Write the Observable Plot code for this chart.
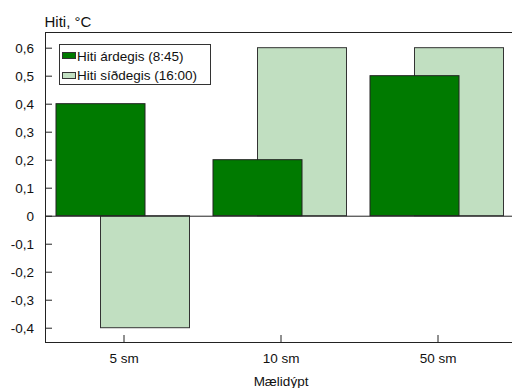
<!DOCTYPE html>
<html>
<head>
<meta charset="utf-8">
<script src="https://cdn.jsdelivr.net/npm/d3@7"></script>
<script src="https://cdn.jsdelivr.net/npm/@observablehq/plot@0.6"></script>
<style>
  html, body { margin: 0; padding: 0; background: #fff; }
  #wrap { position: relative; width: 512px; height: 388px; font-family: "Liberation Sans", Arial, sans-serif; color: #111; }
  #legend { position: absolute; left: 59px; top: 44px; width: 150px; height: 39px; border: 1px solid #333; background: #fff; font-size: 13.5px; }
  .sw { position: absolute; left: 2px; width: 12px; height: 5px; border: 1px solid #333; }
  .lt { position: absolute; left: 17px; line-height: 13px; white-space: nowrap; }
</style>
</head>
<body>
<div id="wrap"></div>
<script>
const depths = ["5 sm", "10 sm", "50 sm"];
const morning = [0.4, 0.2, 0.5];
const afternoon = [-0.4, 0.6, 0.6];
const seriesNames = ["Hiti árdegis (8:45)", "Hiti síðdegis (16:00)"];
const seriesColors = ["#007a00", "#c1dfc1"];
const yTicks = [-0.4, -0.3, -0.2, -0.1, 0, 0.1, 0.2, 0.3, 0.4, 0.5, 0.6];
const title = "Hiti, °C";
const xLabel = "Mælidýpt";

const morningData = depths.map((d, i) => ({depth: d, value: morning[i]}));
const afternoonData = depths.map((d, i) => ({depth: d, value: afternoon[i]}));
const fmt = d => d === 0 ? "0" : (d < 0 ? "-" : "") + Math.abs(d).toFixed(1).replace(".", ",");

const W = 512, H = 388, mL = 45, mR = -4, mT = 32, mB = 46;
const frameW = W - mL - mR, frameH = H - mT - mB;

const chart = Plot.plot({
  width: W, height: H,
  marginLeft: mL, marginRight: mR, marginTop: mT, marginBottom: mB,
  style: {fontFamily: "'Liberation Sans', Arial, sans-serif", fontSize: "13.5px", color: "#111", background: "#fff", overflow: "visible"},
  x: {domain: depths, padding: 0, axis: null},
  y: {domain: [-0.451, 0.656], axis: null},
  marks: [
    Plot.barY(afternoonData, {x: "depth", y: "value", fill: seriesColors[1], stroke: "#333", strokeWidth: 1, insetLeft: 55.5, insetRight: 12.5}),
    Plot.barY(morningData, {x: "depth", y: "value", fill: seriesColors[0], stroke: "#222", strokeWidth: 1, insetLeft: 11, insetRight: 57}),
    Plot.ruleY([0], {stroke: "#222"}),
    Plot.tickY(yTicks, {y: d => d, stroke: "#222", insetRight: frameW - 7}),
    Plot.tickX(depths, {x: d => d, stroke: "#222", insetTop: frameH - 7}),
    Plot.axisY({ticks: yTicks, tickSize: 0, tickPadding: 11.5, tickFormat: fmt, label: null, fill: "#111"}),
    Plot.axisX({tickSize: 0, tickPadding: 11, label: null, fill: "#111"}),
    Plot.frame({stroke: "#222"}),
    Plot.text([title], {frameAnchor: "top-left", textAnchor: "start", lineAnchor: "bottom", dy: -6, dx: -1, fill: "#111", fontSize: 15}),
    Plot.text([xLabel], {frameAnchor: "bottom", lineAnchor: "bottom", dy: 43, fill: "#111"})
  ]
});

const wrap = document.getElementById("wrap");
wrap.appendChild(chart);

const legend = document.createElement("div");
legend.id = "legend";
seriesNames.forEach((name, i) => {
  const sw = document.createElement("div");
  sw.className = "sw";
  sw.style.top = (7.3 + i * 19.4) + "px";
  sw.style.background = seriesColors[i];
  const t = document.createElement("div");
  t.className = "lt";
  t.style.top = (5 + i * 19.4) + "px";
  t.textContent = name;
  legend.appendChild(sw);
  legend.appendChild(t);
});
wrap.appendChild(legend);
</script>
</body>
</html>
